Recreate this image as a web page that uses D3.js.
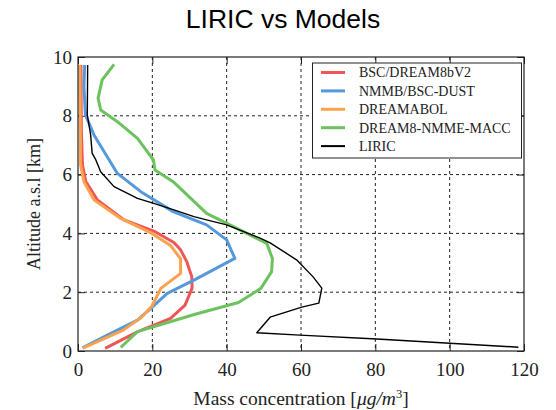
<!DOCTYPE html>
<html>
<head>
<meta charset="utf-8">
<script src="https://cdn.jsdelivr.net/npm/d3@7"></script>
<style>
  body { margin: 0; background: #fff; }
  svg { display: block; }
</style>
</head>
<body>
<svg id="chart" width="556" height="410"></svg>
<script>
// ---- data (x: mass concentration µg/m3, y: altitude km) ----
const seriesNames = ["BSC/DREAM8bV2", "NMMB/BSC-DUST", "DREAMABOL", "DREAM8-NMME-MACC", "LIRIC"];
const seriesColors = ["#ef5757", "#5599dc", "#fca24e", "#6cc35e", "#000000"];

const bscDream = [[7.3,0.09],[16.1,0.66],[24.9,1.11],[28.8,1.56],[30.7,2.14],[30.6,2.53],[29.3,3.03],[27.6,3.44],[25.8,3.69],[20.4,4.08],[12.4,4.46],[5.2,5.14],[2.1,5.76],[1.2,6.33],[0.9,7.5],[0.8,9.73]];
const nmmb = [[1.2,0.11],[7.9,0.54],[16.0,1.05],[19.6,1.45],[24.0,1.96],[31.2,2.41],[42.2,3.15],[40.0,3.78],[34.6,4.29],[25.6,4.74],[16.9,5.42],[10.6,6.04],[7.9,6.6],[4.3,7.35],[2.0,8.03],[1.6,9.0],[1.8,9.73]];
const dreamabol = [[1.3,0.10],[12.2,0.71],[17.0,1.14],[19.9,1.53],[22.3,2.13],[27.6,2.64],[27.6,3.13],[24.9,3.59],[19.9,4.00],[11.5,4.51],[4.3,5.14],[1.6,5.76],[0.7,6.33],[0.5,9.73]];
const dream8macc = [[11.5,0.12],[16.0,0.66],[31.5,1.25],[43.2,1.65],[49.2,2.13],[52.1,2.70],[52.3,3.15],[50.8,3.66],[41.8,4.23],[34.6,4.68],[25.6,5.76],[20.7,6.16],[20.3,6.5],[16.0,7.23],[10.6,7.8],[6.1,8.2],[5.4,8.6],[6.5,9.22],[9.7,9.75]];
const liric = [[118.5,0.13],[80.4,0.41],[59.7,0.54],[48.1,0.62],[51.7,1.15],[60.2,1.49],[64.8,1.63],[65.6,2.14],[63.2,2.53],[58.8,3.10],[51.7,3.68],[49.0,3.84],[40.0,4.29],[34.6,4.46],[31.2,4.57],[25.8,4.80],[20.4,5.02],[16.0,5.19],[9.7,5.59],[6.1,6.10],[4.8,6.50],[3.8,6.73],[3.4,7.35],[2.5,8.03],[2.6,9.73]];

const xTicks = [0, 20, 40, 60, 80, 100, 120];
const yTicks = [0, 2, 4, 6, 8, 10];

// ---- layout ----
const svg = d3.select("#chart");
const L = 78, R = 524, T = 57, B = 351;
const x = d3.scaleLinear().domain([0, 120]).range([L, R]);
const y = d3.scaleLinear().domain([0, 10]).range([B, T]);
const serif = "'Liberation Serif', 'Times New Roman', serif";

// title
svg.append("text").attr("x", 283).attr("y", 28).attr("text-anchor", "middle")
  .attr("font-family", "'Liberation Sans', Arial, sans-serif").attr("font-size", 26.5)
  .attr("fill", "#000").text("LIRIC vs Models");

// grid
const grid = svg.append("g").attr("stroke", "#222").attr("stroke-width", 1).attr("stroke-dasharray", "3,3");
xTicks.slice(1, -1).forEach(t => grid.append("line").attr("x1", x(t)).attr("x2", x(t)).attr("y1", T).attr("y2", B));
yTicks.slice(1, -1).forEach(t => grid.append("line").attr("x1", L).attr("x2", R).attr("y1", y(t)).attr("y2", y(t)));

// axes with inward ticks on all sides
const tickLen = 7;
function axisStyle(g) {
  g.select(".domain").remove();
  g.selectAll(".tick line").attr("stroke", "#222").attr("stroke-width", 1);
  g.selectAll(".tick text").attr("font-family", serif).attr("font-size", 19).attr("fill", "#222");
}
svg.append("g").attr("transform", `translate(0,${B})`)
  .call(d3.axisBottom(x).tickValues(xTicks).tickSizeInner(-tickLen).tickSizeOuter(0).tickPadding(12))
  .call(axisStyle);
svg.append("g").attr("transform", `translate(0,${T})`)
  .call(d3.axisTop(x).tickValues(xTicks).tickSizeInner(-tickLen).tickSizeOuter(0).tickFormat(""))
  .call(axisStyle);
svg.append("g").attr("transform", `translate(${L},0)`)
  .call(d3.axisLeft(y).tickValues(yTicks).tickSizeInner(-tickLen).tickSizeOuter(0).tickPadding(6))
  .call(axisStyle);
svg.append("g").attr("transform", `translate(${R},0)`)
  .call(d3.axisRight(y).tickValues(yTicks).tickSizeInner(-tickLen).tickSizeOuter(0).tickFormat(""))
  .call(axisStyle);

// lines
const line = d3.line().x(d => x(d[0])).y(d => y(d[1]));
const allSeries = [bscDream, nmmb, dreamabol, dream8macc, liric];
const clip = svg.append("clipPath").attr("id", "clip").append("rect")
  .attr("x", L).attr("y", T).attr("width", R - L).attr("height", B - T);
const lines = svg.append("g").attr("clip-path", "url(#clip)");
allSeries.forEach((s, i) => {
  lines.append("path").datum(s).attr("d", line).attr("fill", "none")
    .attr("stroke", seriesColors[i]).attr("stroke-width", i === 4 ? 1.4 : 3)
    .attr("stroke-linejoin", "round");
});

// frame
svg.append("rect").attr("x", L).attr("y", T).attr("width", R - L).attr("height", B - T)
  .attr("fill", "none").attr("stroke", "#222").attr("stroke-width", 1.2);

// legend
const lg = svg.append("g");
lg.append("rect").attr("x", 312.5).attr("y", 63).attr("width", 209).attr("height", 95)
  .attr("fill", "#fff").attr("stroke", "#222").attr("stroke-width", 1);
seriesNames.forEach((n, i) => {
  const yy = 72.5 + i * 18.4;
  lg.append("line").attr("x1", 321).attr("x2", 345).attr("y1", yy).attr("y2", yy)
    .attr("stroke", seriesColors[i]).attr("stroke-width", i === 4 ? 2 : 3);
  lg.append("text").attr("x", 359).attr("y", yy + 4.8).attr("font-family", serif)
    .attr("font-size", 14).attr("fill", "#222").text(n);
});

// axis labels
const xl = svg.append("text").attr("x", 301).attr("y", 405).attr("text-anchor", "middle")
  .attr("font-family", serif).attr("font-size", 19.5).attr("fill", "#222");
xl.append("tspan").text("Mass concentration [");
xl.append("tspan").attr("font-style", "italic").text("μg/m");
xl.append("tspan").attr("font-size", 12.5).attr("dy", -7).text("3");
xl.append("tspan").attr("dy", 7).text("]");

svg.append("text").attr("transform", `translate(40,${(T + B) / 2}) rotate(-90)`)
  .attr("text-anchor", "middle").attr("font-family", serif).attr("font-size", 18)
  .attr("fill", "#222").text("Altitude a.s.l [km]");
</script>
</body>
</html>
